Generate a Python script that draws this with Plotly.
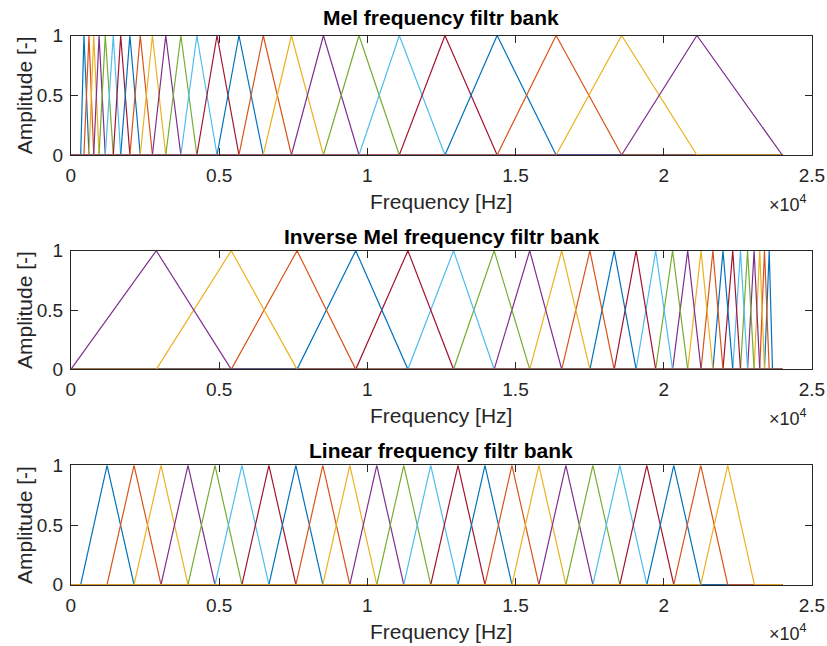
import plotly.graph_objects as go

# Filter-bank edge frequencies in Hz: [start, centre_1 ... centre_N, end]
mel_edges = [330, 440, 610, 770, 950, 1160, 1430, 1680, 1990, 2340, 2750, 3200,
             3710, 4250, 4930, 5670, 6490, 7440, 8520, 9720, 11080, 12620,
             14380, 16370, 18580, 21120, 24000]
# Inverse mel bank, listed from low to high frequency (filter 25 is the lowest)
inv_edges = [0, 2880, 5410, 7630, 9610, 11370, 12910, 14280, 15480, 16560,
             17510, 18330, 19070, 19730, 20300, 20810, 21260, 21660, 22000,
             22330, 22590, 22830, 23050, 23240, 23400, 23560, 23670]
lin_edges = [330, 1220, 2130, 3040, 3950, 4860, 5770, 6680, 7590, 8500, 9410,
             10320, 11230, 12140, 13060, 13970, 14880, 15790, 16700, 17610,
             18520, 19430, 20340, 21250, 22160, 23060]

f_max = 24000
titles = ["Mel frequency filtr bank", "Inverse Mel frequency filtr bank",
          "Linear frequency filtr bank"]
x_tick_vals = [0, 5000, 10000, 15000, 20000, 25000]
x_tick_text = ["0", "0.5", "1", "1.5", "2", "2.5"]
y_tick_vals = [0, 0.5, 1]
y_tick_text = ["0", "0.5", "1"]

colors = ["#0072BD", "#D95319", "#EDB120", "#7E2F8E", "#77AC30", "#4DBEEE", "#A2142F"]

W, H = 827, 646
AX_L, AX_R = 70.9, 811.9
panels = [(35.5, 155.0), (250.7, 369.3), (465.3, 584.7)]
title_y = [18, 236, 450]
xlabel_y = [201, 415, 631]
exp_y = [203, 417, 632]

FONT = "Liberation Sans, Arial, sans-serif"


def py(v):
    return 1 - v / H


fig = go.Figure()


def triangles(edges, reverse=False):
    """Return list of (filter_number, left, centre, right) triangles."""
    n = len(edges) - 2
    out = []
    for k in range(n):
        left, centre, right = edges[k], edges[k + 1], edges[k + 2]
        num = (n - k) if reverse else (k + 1)
        out.append((num, left, centre, right))
    out.sort(key=lambda t: t[0])
    return out


banks = [triangles(mel_edges), triangles(inv_edges, reverse=True), triangles(lin_edges)]

for p, bank in enumerate(banks):
    suffix = "" if p == 0 else str(p + 1)
    for num, left, centre, right in bank:
        fig.add_trace(go.Scatter(
            x=[0, left, centre, right, f_max],
            y=[0, 0, 1, 0, 0],
            mode="lines",
            line=dict(color=colors[(num - 1) % 7], width=1.2),
            xaxis="x" + suffix, yaxis="y" + suffix,
            showlegend=False, hoverinfo="skip",
        ))

tick_font = dict(family=FONT, size=19, color="#262626")
axis_common = dict(
    showline=True, linecolor="#262626", linewidth=1, mirror="allticks",
    ticks="inside", ticklen=7, tickwidth=1, tickcolor="#262626",
    showgrid=False, zeroline=False, tickfont=tick_font, fixedrange=True,
    automargin=False,
)

layout = dict(
    width=W, height=H, margin=dict(l=0, r=0, t=0, b=0, autoexpand=False),
    paper_bgcolor="white", plot_bgcolor="white", showlegend=False,
    annotations=[],
)

for p, (top, bot) in enumerate(panels):
    suffix = "" if p == 0 else str(p + 1)
    layout["xaxis" + suffix] = dict(
        axis_common, domain=[AX_L / W, AX_R / W], range=[0, 25000],
        tickvals=x_tick_vals, ticktext=x_tick_text,
        anchor="y" + suffix, ticklabelstandoff=3,
    )
    layout["yaxis" + suffix] = dict(
        axis_common, domain=[py(bot), py(top)], range=[0, 1],
        tickvals=y_tick_vals, ticktext=y_tick_text,
        anchor="x" + suffix, ticklabelstandoff=3,
    )
    cx = (AX_L + AX_R) / 2
    layout["annotations"] += [
        dict(text="<b>" + titles[p] + "</b>", x=cx / W, y=py(title_y[p]),
             xref="paper", yref="paper", showarrow=False, xanchor="center", yanchor="middle",
             font=dict(family=FONT, size=21, color="#000000")),
        dict(text="Frequency [Hz]", x=cx / W, y=py(xlabel_y[p]),
             xref="paper", yref="paper", showarrow=False, xanchor="center", yanchor="middle",
             font=dict(family=FONT, size=21, color="#262626")),
        dict(text="×10<sup>4</sup>", x=809 / W, y=py(exp_y[p]),
             xref="paper", yref="paper", showarrow=False, xanchor="right", yanchor="middle",
             font=dict(family=FONT, size=18, color="#262626")),
        dict(text="Amplitude [-]", x=24 / W, y=py((top + bot) / 2), textangle=-90,
             xref="paper", yref="paper", showarrow=False, xanchor="center", yanchor="middle",
             font=dict(family=FONT, size=21, color="#262626")),
    ]

fig.update_layout(**layout)
fig.write_html("out.html")
